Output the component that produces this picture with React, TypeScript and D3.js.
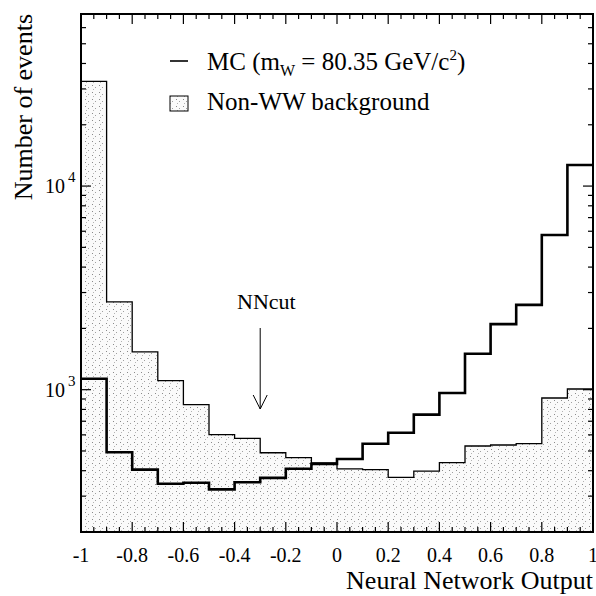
import React from "react";
import * as d3 from "d3";

// bin edges of the NN output histogram
const binEdges = [-1, -0.9, -0.8, -0.7, -0.6, -0.5, -0.4, -0.3, -0.2, -0.1, 0, 0.1, 0.2, 0.3, 0.4, 0.5, 0.6, 0.7, 0.8, 0.9, 1];

// non-WW background (shaded)
const background = [32700, 2700, 1535, 1107, 844, 601, 577, 490, 464, 437, 408, 405, 371, 398, 438, 529, 535, 543, 910, 1008];

// MC, m_W = 80.35
const mc = [1132, 493, 405, 345, 349, 324, 351, 369, 409, 432, 457, 543, 614, 754, 963, 1501, 2100, 2610, 5750, 12700];

const xTickValues = [-1, -0.8, -0.6, -0.4, -0.2, 0, 0.2, 0.4, 0.6, 0.8, 1];
const xTickLabels = ["-1", "-0.8", "-0.6", "-0.4", "-0.2", "0", "0.2", "0.4", "0.6", "0.8", "1"];
const yMajorValues = [1000, 10000];
const yMajorExp = ["3", "4"];
const nnCut = -0.3;

const W = 596;
const H = 596;
const margin = { top: 14, right: 3, bottom: 64, left: 81 };
const font = "Liberation Serif, Times New Roman, serif";

export default function App() {
  const x = d3.scaleLinear().domain([-1, 1]).range([margin.left, W - margin.right]);
  const y = d3.scaleLog().domain([200, 70000]).range([H - margin.bottom, margin.top]);
  const x0 = x.range()[0], x1 = x.range()[1];
  const yb = y.range()[0], yt = y.range()[1];

  const pts = (vals: number[]) =>
    vals.map((v, i) => [binEdges[i], v] as [number, number]).concat([[binEdges[binEdges.length - 1], vals[vals.length - 1]]]);

  const stepLine = d3.line<[number, number]>()
    .x(d => x(d[0]))
    .y(d => y(d[1]))
    .curve(d3.curveStepAfter);

  const stepArea = d3.area<[number, number]>()
    .x(d => x(d[0]))
    .y0(yb)
    .y1(d => y(d[1]))
    .curve(d3.curveStepAfter);

  // minor ticks
  const xMinor = d3.range(0, 41).map(i => -1 + i * 0.05);
  const yTicks = y.ticks().filter(t => t >= 200 && t <= 70000);

  const arrowX = x(nnCut);

  return (
    <svg width={W} height={H} style={{ position: "absolute", left: 0, top: 0, background: "#fff" }}>
      <defs>
        <pattern id="stip" width="7" height="7" patternUnits="userSpaceOnUse">
          <rect width="7" height="7" fill="#fafafa" />
          <rect x="1" y="1" width="1" height="1" fill="#8a8a8a" />
          <rect x="4" y="3" width="1" height="1" fill="#a0a0a0" />
          <rect x="2" y="5" width="1" height="1" fill="#b4b4b4" />
        </pattern>
      </defs>

      {/* background histogram */}
      <path d={stepArea(pts(background)) || ""} fill="url(#stip)" />
      <path d={stepLine(pts(background)) || ""} fill="none" stroke="#000" strokeWidth={1.3} />
      {/* MC histogram */}
      <path d={stepLine(pts(mc)) || ""} fill="none" stroke="#000" strokeWidth={2.6} />

      {/* frame */}
      <rect x={x0} y={yt} width={x1 - x0} height={yb - yt} fill="none" stroke="#000" strokeWidth={2} />

      {/* x ticks */}
      {xMinor.map((t, i) => {
        const major = i % 4 === 0;
        const len = major ? 10 : 5;
        const px = x(t);
        return (
          <g key={"xt" + i} stroke="#000" strokeWidth={1.2}>
            <line x1={px} x2={px} y1={yb} y2={yb - len} />
            <line x1={px} x2={px} y1={yt} y2={yt + len} />
          </g>
        );
      })}

      {/* y ticks */}
      {yTicks.map((t, i) => {
        const major = yMajorValues.includes(t);
        const len = major ? 10 : 5;
        const py = y(t);
        return (
          <g key={"yt" + i} stroke="#000" strokeWidth={1.2}>
            <line x1={x0} x2={x0 + len} y1={py} y2={py} />
            <line x1={x1} x2={x1 - len} y1={py} y2={py} />
          </g>
        );
      })}

      <g style={{ fontFamily: font }}>
        {xTickValues.map((t, i) => (
          <text key={"xl" + i} x={x(t)} y={562} fontSize={20} textAnchor="middle">{xTickLabels[i]}</text>
        ))}
        {yMajorValues.map((t, i) => (
          <text key={"yl" + i} x={45} y={y(t) + 7} fontSize={20}>
            10<tspan dy={-11} dx={3} fontSize={15}>{yMajorExp[i]}</tspan>
          </text>
        ))}

        {/* axis titles */}
        <text x={W - margin.right} y={589} fontSize={26} textAnchor="end">Neural Network Output</text>
        <text transform={`translate(32,${yt}) rotate(-90)`} fontSize={26} textAnchor="end">Number of events</text>

        {/* legend */}
        <line x1={170} x2={188} y1={61} y2={61} stroke="#000" strokeWidth={1.6} />
        <text x={207} y={70} fontSize={25}>
          MC (m<tspan dy={6} fontSize={16}>W</tspan>
          <tspan dy={-6}> = 80.35 GeV/c</tspan>
          <tspan dy={-10} fontSize={15}>2</tspan>
          <tspan dy={10}>)</tspan>
        </text>
        <rect x={170} y={96} width={18} height={15} fill="url(#stip)" stroke="#000" strokeWidth={1} />
        <text x={207} y={110} fontSize={25}>Non-WW background</text>

        {/* NN cut */}
        <text x={237} y={309} fontSize={22}>NNcut</text>
      </g>
      <line x1={arrowX} x2={arrowX} y1={328} y2={409} stroke="#000" strokeWidth={1} />
      <path d={`M${arrowX - 7},${395} L${arrowX},${409} L${arrowX + 7},${395}`} fill="none" stroke="#000" strokeWidth={1} />
    </svg>
  );
}
